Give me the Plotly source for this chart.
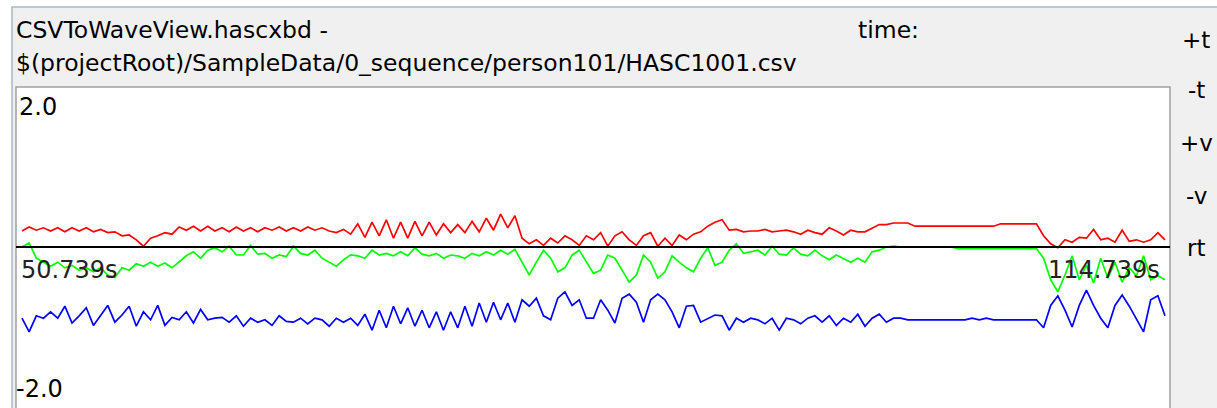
import numpy as np
import plotly.graph_objects as go

# ---- data ----
t_start = 50.739
t_end = 114.739
n_points = 161

red = [0.20, 0.25, 0.21, 0.24, 0.20, 0.24, 0.19, 0.24, 0.20, 0.24,
       0.19, 0.22, 0.18, 0.19, 0.14, 0.15, 0.09, 0.01, 0.11, 0.14,
       0.18, 0.16, 0.25, 0.21, 0.26, 0.20, 0.26, 0.20, 0.24, 0.19,
       0.25, 0.20, 0.24, 0.19, 0.24, 0.21, 0.25, 0.20, 0.24, 0.20,
       0.25, 0.21, 0.24, 0.20, 0.18, 0.22, 0.16, 0.29, 0.12, 0.31,
       0.14, 0.34, 0.11, 0.31, 0.11, 0.32, 0.14, 0.31, 0.15, 0.29,
       0.18, 0.28, 0.18, 0.32, 0.19, 0.36, 0.21, 0.41, 0.24, 0.39,
       0.11, 0.04, 0.09, 0.02, 0.11, 0.05, 0.14, 0.09, 0.02, 0.14,
       0.09, 0.18, 0.01, 0.14, 0.19, 0.09, 0.02, 0.14, 0.18, 0.01,
       0.11, 0.02, 0.15, 0.09, 0.16, 0.19, 0.26, 0.31, 0.34, 0.21,
       0.22, 0.19, 0.20, 0.20, 0.22, 0.19, 0.20, 0.21, 0.19, 0.16,
       0.21, 0.18, 0.16, 0.24, 0.20, 0.15, 0.21, 0.19, 0.19, 0.24,
       0.28, 0.28, 0.30, 0.30, 0.30, 0.26, 0.26, 0.26, 0.26, 0.26,
       0.26, 0.26, 0.26, 0.26, 0.26, 0.26, 0.26, 0.29, 0.29, 0.29,
       0.29, 0.29, 0.29, 0.14, 0.04, -0.01, 0.09, 0.06, 0.12, 0.11,
       0.22, 0.09, 0.11, 0.06, 0.21, 0.07, 0.09, 0.06, 0.09, 0.18,
       0.09]

green = [0.00, 0.05, -0.14, -0.19, -0.24, -0.19, -0.26, -0.23, -0.29, -0.26,
         -0.31, -0.26, -0.35, -0.38, -0.26, -0.29, -0.21, -0.24, -0.19, -0.24,
         -0.20, -0.26, -0.19, -0.11, -0.06, -0.14, -0.04, -0.01, -0.06, 0.01,
         -0.10, -0.10, 0.02, -0.09, -0.08, -0.14, -0.10, -0.12, 0.01, -0.08,
         -0.10, -0.04, -0.14, -0.19, -0.24, -0.16, -0.10, -0.11, -0.14, -0.04,
         -0.10, -0.08, -0.11, -0.06, -0.11, -0.01, -0.09, -0.11, -0.08, -0.14,
         -0.10, -0.11, -0.14, -0.08, -0.11, -0.06, -0.10, -0.04, -0.09, -0.03,
         -0.19, -0.35, -0.19, -0.04, -0.14, -0.31, -0.26, -0.10, -0.04, -0.19,
         -0.33, -0.29, -0.10, -0.14, -0.29, -0.44, -0.35, -0.10, -0.19, -0.39,
         -0.31, -0.11, -0.19, -0.26, -0.31, -0.14, -0.01, -0.23, -0.19, -0.04,
         0.04, -0.08, -0.06, -0.04, -0.10, 0.01, -0.09, -0.10, -0.01, -0.09,
         -0.11, -0.04, -0.11, -0.16, -0.10, -0.14, -0.19, -0.14, -0.19, -0.06,
         -0.04, 0.00, 0.01, 0.00, 0.00, 0.00, 0.00, 0.00, 0.00, 0.00,
         0.00, -0.02, -0.02, -0.02, -0.02, -0.02, -0.02, -0.02, -0.02, -0.02,
         -0.02, -0.02, -0.02, -0.14, -0.41, -0.56, -0.35, -0.11, -0.41, -0.23,
         -0.45, -0.14, -0.39, -0.19, -0.44, -0.26, -0.36, -0.11, -0.41, -0.36,
         -0.41]

blue = [-0.89, -1.06, -0.86, -0.89, -0.81, -0.89, -0.74, -0.95, -0.86, -0.76,
        -0.98, -0.86, -0.73, -0.94, -0.85, -0.74, -0.99, -0.81, -0.91, -0.73,
        -0.98, -0.88, -0.91, -0.81, -0.95, -0.78, -0.91, -0.89, -0.88, -0.94,
        -0.86, -0.99, -0.89, -0.94, -0.91, -0.98, -0.86, -0.93, -0.94, -0.89,
        -0.96, -0.89, -0.91, -0.99, -0.89, -0.94, -0.89, -0.98, -0.84, -1.04,
        -0.79, -1.01, -0.74, -0.96, -0.76, -0.99, -0.79, -1.01, -0.81, -1.04,
        -0.81, -1.01, -0.74, -0.99, -0.70, -0.94, -0.69, -0.91, -0.70, -0.94,
        -0.66, -0.74, -0.64, -0.86, -0.91, -0.64, -0.56, -0.73, -0.66, -0.89,
        -0.89, -0.66, -0.79, -0.95, -0.64, -0.59, -0.69, -0.94, -0.66, -0.59,
        -0.66, -0.81, -1.01, -0.74, -0.73, -0.94, -0.89, -0.85, -0.86, -1.04,
        -0.89, -0.94, -0.89, -0.91, -0.96, -0.89, -1.04, -0.89, -0.91, -0.96,
        -0.89, -0.86, -0.94, -0.86, -0.98, -0.89, -0.94, -0.84, -0.99, -0.89,
        -0.84, -0.94, -0.89, -0.89, -0.91, -0.91, -0.91, -0.91, -0.91, -0.91,
        -0.91, -0.91, -0.91, -0.89, -0.91, -0.89, -0.91, -0.91, -0.91, -0.91,
        -0.91, -0.91, -0.91, -1.01, -0.73, -0.61, -0.79, -1.00, -0.73, -0.54,
        -0.73, -0.89, -1.01, -0.73, -0.60, -0.74, -0.91, -1.06, -0.66, -0.61,
        -0.86]

y_max_label = "2.0"
y_min_label = "-2.0"
title_line1 = "CSVToWaveView.hascxbd -"
title_line2 = "$(projectRoot)/SampleData/0_sequence/person101/HASC1001.csv"
time_label = "time:"
side_buttons = ["+t", "-t", "+v", "-v", "rt"]

# ---- figure ----
W, H = 1217, 408
t = np.linspace(t_start, t_end, n_points)


def px(x):
    return x / W


def py(y):
    return 1 - y / H


box_l, box_r, box_t = 16, 1170, 87
pxs = (1165 - 22) / (t_end - t_start)
x_range = [t_start - (22 - box_l) / pxs, t_end + (box_r - 1165) / pxs]

fig = go.Figure()
for vals, col in [(red, "#ff0000"), (green, "#00ff00"), (blue, "#0000ff")]:
    fig.add_trace(go.Scatter(x=t, y=vals, mode="lines",
                             line=dict(color=col, width=1.7),
                             hoverinfo="skip", showlegend=False))

FONT = "DejaVu Sans"
fig.update_layout(
    width=W, height=H,
    margin=dict(l=0, r=0, t=0, b=0),
    paper_bgcolor="#ffffff",
    plot_bgcolor="rgba(0,0,0,0)",
    showlegend=False,
    xaxis=dict(domain=[px(box_l), px(box_r)], range=x_range, visible=False,
               fixedrange=True),
    yaxis=dict(domain=[0, py(box_t)], range=[-2.0125, 2.0], visible=False,
               fixedrange=True),
    font=dict(family=FONT, size=24, color="#000000"),
)

shapes = [
    # window panel
    dict(type="rect", xref="paper", yref="paper", x0=px(12), x1=1.01,
         y0=-0.01, y1=py(7), fillcolor="#f0f0f0",
         line=dict(color="#aab8c8", width=1.5), layer="below"),
    # white plot box
    dict(type="rect", xref="paper", yref="paper", x0=px(box_l), x1=px(box_r),
         y0=-0.01, y1=py(box_t), fillcolor="#ffffff",
         line=dict(color="#a0a0a0", width=1.5), layer="below"),
    # zero line
    dict(type="line", xref="paper", yref="y", x0=px(box_l), x1=px(box_r),
         y0=0, y1=0, line=dict(color="#000000", width=2), layer="above"),
]
fig.update_layout(shapes=shapes)

ann = []


def add_text(text, x, y, xanchor="left", size=24, color="#000000"):
    ann.append(dict(text=text, x=px(x), y=py(y), xref="paper", yref="paper",
                    xanchor=xanchor, yanchor="middle", showarrow=False,
                    font=dict(family=FONT, size=size, color=color)))


add_text(title_line1, 14, 30, size=23.5)
add_text(title_line2, 14, 63, size=23.5)
add_text(time_label, 856, 30, size=23.5)
add_text(y_max_label, 17, 107)
add_text(y_min_label, 14, 389)
add_text(f"{t_start:.3f}s", 19, 270, color="#222222")
add_text(f"{t_end:.3f}s", 1162, 270, xanchor="right", color="#222222")
for lab, yy in zip(side_buttons, [40, 90, 143, 196, 248]):
    add_text(lab, 1196, yy, xanchor="center", size=23)

fig.update_layout(annotations=ann)
fig.write_html("out.html",
               config={"displayModeBar": False},
               post_script="document.body.style.margin='0';"
                           "document.body.style.overflow='hidden';")
